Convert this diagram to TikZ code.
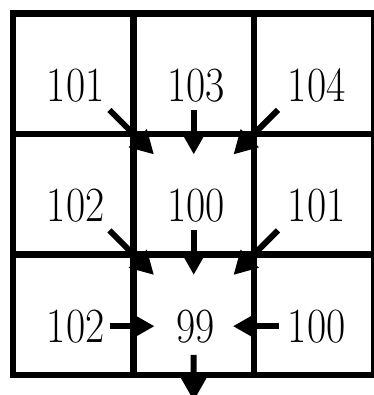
\documentclass[tikz,border=0pt]{standalone}
\usepackage{graphicx}
\usetikzlibrary{positioning,calc,arrows.meta}

\newcommand{\cellval}[1]{\scalebox{0.85}[1]{#1}}

\begin{document}
\begin{tikzpicture}[x=0.02cm,y=-0.02cm,
  node distance=0pt,
  cell/.style={draw,line width=3.5pt,minimum size=2.41cm,inner sep=0pt,outer sep=0pt},
  num/.style={inner sep=0pt,font=\fontsize{28}{28}\selectfont},
  flow/.style={line width=3.4pt,-{Triangle[length=0.46cm,width=0.48cm]}}]
  \useasboundingbox (0,0) rectangle (374,395);
  \clip (0,0) rectangle (374,395);

  % the 3x3 grid
  \node[cell] (c11) at (73.25,73.75) {};
  \node[cell,right=of c11] (c12) {};
  \node[cell,right=of c12] (c13) {};
  \node[cell,below=of c11] (c21) {};
  \node[cell,right=of c21] (c22) {};
  \node[cell,right=of c22] (c23) {};
  \node[cell,below=of c21] (c31) {};
  \node[cell,right=of c31] (c32) {};
  \node[cell,right=of c32] (c33) {};

  % heights
  \node[num] (n11) at ([shift={(2.5,11.5)}]c11) {\cellval{101}};
  \node[num] (n12) at ([shift={(2.5,11.5)}]c12) {\cellval{103}};
  \node[num] (n13) at ([shift={(2.5,11.5)}]c13) {\cellval{104}};
  \node[num] (n21) at ([shift={(2.5,11.5)}]c21) {\cellval{102}};
  \node[num] (n22) at ([shift={(2.5,11.5)}]c22) {\cellval{100}};
  \node[num] (n23) at ([shift={(2.5,11.5)}]c23) {\cellval{101}};
  \node[num] (n31) at ([shift={(2.5,11.5)}]c31) {\cellval{102}};
  \node[num] (n32) at ([shift={(1.5,11.5)}]c32) {\cellval{99}};
  \node[num] (n33) at ([shift={(2.5,11.5)}]c33) {\cellval{100}};
  \coordinate (sink) at ([yshift=-0.52cm]c32.south);

  % flow directions
  \draw[flow] ($(c11)!0.3!(c22)$) -- ($(c11)!0.67!(c22)$);
  \draw[flow] ($(c12)!0.3!(c22)$) -- ($(c12)!0.67!(c22)$);
  \draw[flow] ($(c13)!0.3!(c22)$) -- ($(c13)!0.67!(c22)$);
  \draw[flow] ($(c21)!0.3!(c32)$) -- ($(c21)!0.67!(c32)$);
  \draw[flow] ($(c22)!0.3!(c32)$) -- ($(c22)!0.67!(c32)$);
  \draw[flow] ($(c23)!0.3!(c32)$) -- ($(c23)!0.67!(c32)$);
  \draw[flow] ($(n31)!0.285!(n32)$) -- ($(n31)!0.66!(n32)$);
  \draw[flow] ($(n33)!0.31!(n32)$) -- ($(n33)!0.69!(n32)$);
  \draw[flow] ($(c32)!0.465!(sink)$) -- (sink);
\end{tikzpicture}
\end{document}
